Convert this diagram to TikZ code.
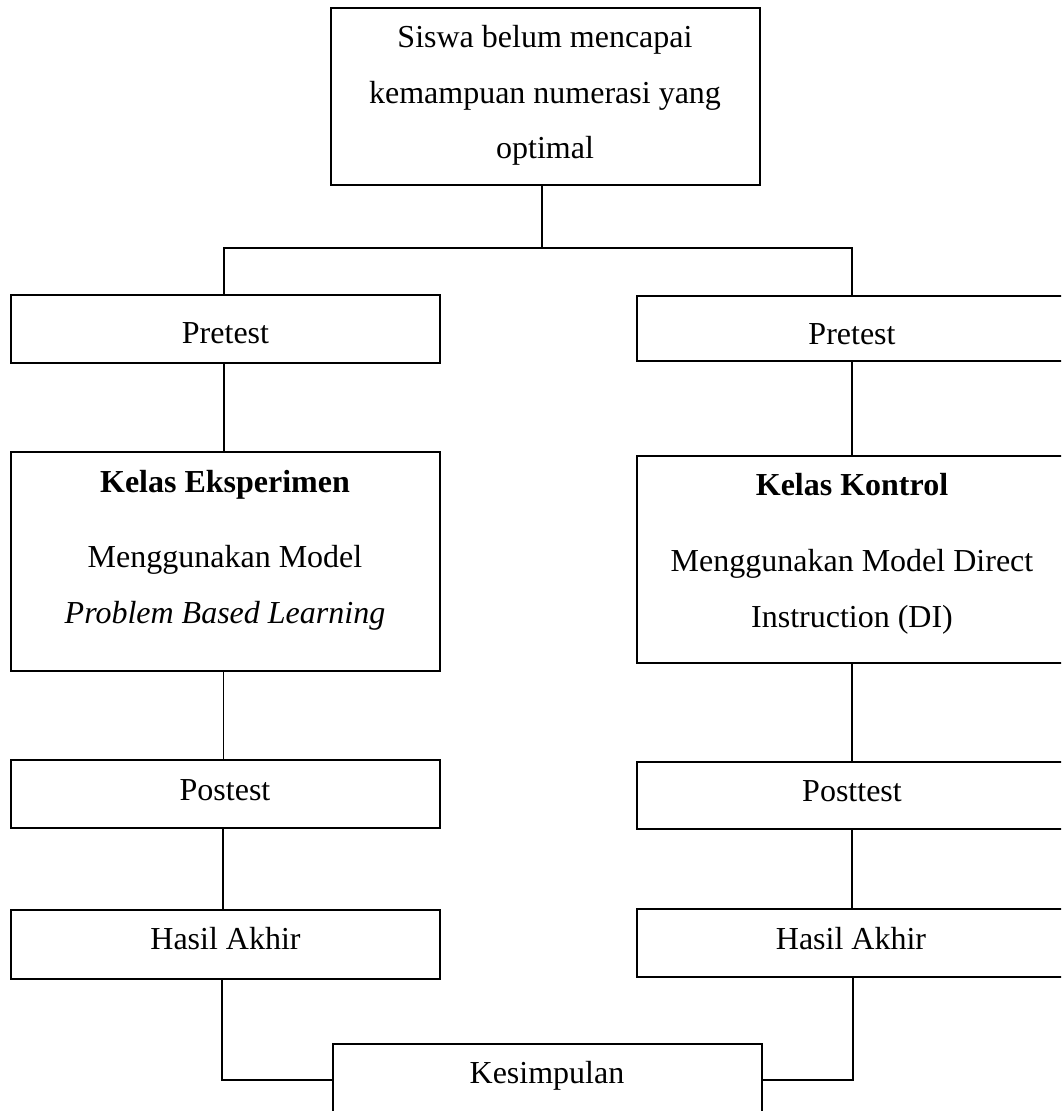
\documentclass[tikz,border=0pt]{standalone}
\usepackage{fontspec}
\setmainfont{Liberation Serif}
\begin{document}
\begin{tikzpicture}[x=1pt,y=-1pt,
  box/.style={draw, line width=1.2pt, inner sep=0pt, minimum width=429pt},
  lbl/.style={anchor=base, inner sep=0pt, font=\fontsize{32}{55}\selectfont},
  conn/.style={line width=1.1pt}]
\useasboundingbox (0,0) rectangle (1061,1111);
\clip (0,0) rectangle (1061,1111);
% boxes
\node[box, minimum height=177pt] (top) at (545.5,96.5) {};
\node[box, minimum height=68pt] (pl) at (225.5,329) {};
\node[box, minimum width=430pt, minimum height=65pt] (pr) at (852,328.5) {};
\node[box, minimum height=219pt] (ke) at (225.5,561.5) {};
\node[box, minimum width=430pt, minimum height=207pt] (kk) at (852,559.5) {};
\node[box, minimum height=68pt] (pol) at (225.5,794) {};
\node[box, minimum width=430pt, minimum height=67pt] (por) at (852,795.5) {};
\node[box, minimum height=69pt] (hl) at (225.5,944.5) {};
\node[box, minimum width=430pt, minimum height=68pt] (hr) at (852,943) {};
\node[box, minimum height=69pt] (kes) at (547.5,1078.5) {};
% texts
\node[lbl] (t1) at (545,47) {Siswa belum mencapai};
\node[lbl] (t2) at (545,103) {kemampuan numerasi yang};
\node[lbl] (t3) at (545,158) {optimal};
\node[lbl] (tpl) at (225.5,343) {Pretest};
\node[lbl] (tpr) at (852,344) {Pretest};
\node[lbl] (tke1) at (225,492) {\bfseries Kelas Eksperimen};
\node[lbl] (tke2) at (225,567) {Menggunakan Model};
\node[lbl] (tke3) at (225,623) {\itshape Problem Based Learning};
\node[lbl] (tkk1) at (852,495) {\bfseries Kelas Kontrol};
\node[lbl] (tkk2) at (852,571) {Menggunakan Model Direct};
\node[lbl] (tkk3) at (852,627) {Instruction (DI)};
\node[lbl] (tpol) at (225,800) {Postest};
\node[lbl] (tpor) at (852,801) {Posttest};
\node[lbl] (thl) at (225.5,949) {Hasil Akhir};
\node[lbl] (thr) at (851,949) {Hasil Akhir};
\node[lbl] (tkes) at (547,1083) {Kesimpulan};
% connectors
\coordinate (j) at (542,248);
\draw[conn] ([xshift=-3.5pt]top.south) -- (j);
\draw[conn] ([xshift=-1.5pt]pl.north) |- (j) -| (pr.north);
\draw[conn] ([xshift=-1.5pt]pl.south) -- ([xshift=-1.5pt]ke.north);
\draw[conn] (pr.south) -- (kk.north);
\draw[conn] ([xshift=-2pt]ke.south) -- ([xshift=-2pt]pol.north);
\draw[conn] (kk.south) -- (por.north);
\draw[conn] ([xshift=-2.5pt]pol.south) -- ([xshift=-2.5pt]hl.north);
\draw[conn] (por.south) -- (hr.north);
\draw[conn] ([xshift=-3.5pt]hl.south) |- ([yshift=-1.5pt]kes.west);
\draw[conn] ([xshift=1pt]hr.south) |- ([yshift=-1.5pt]kes.east);
\end{tikzpicture}
\end{document}
